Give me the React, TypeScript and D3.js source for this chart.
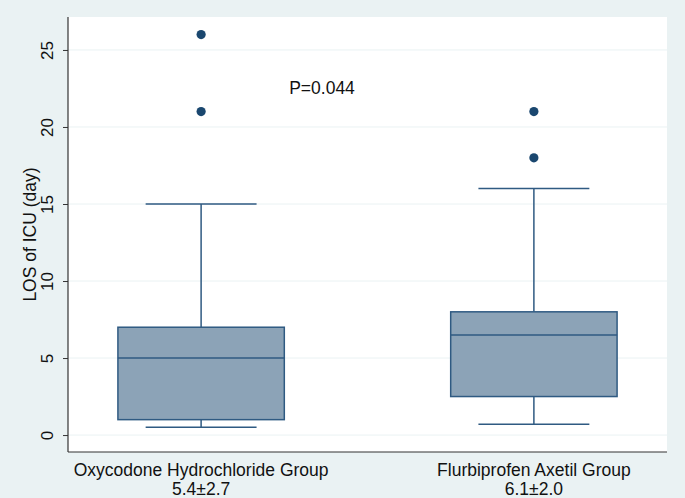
import { useEffect, useRef } from 'react';
import * as d3 from 'd3';

const groups = ['Oxycodone Hydrochloride Group', 'Flurbiprofen Axetil Group'];
const summaries = ['5.4±2.7', '6.1±2.0'];
const lowWhisker = [0.5, 0.7];
const q1 = [1, 2.5];
const median = [5, 6.5];
const q3 = [7, 8];
const highWhisker = [15, 16];
const outliers = [[21, 26], [18, 21]];
const yTicks = [0, 5, 10, 15, 20, 25];

export default function App() {
  const ref = useRef<SVGSVGElement | null>(null);
  useEffect(() => {
    const W = 685, H = 498;
    const svg = d3.select(ref.current!);
    svg.selectAll('*').remove();
    const font = 'Liberation Sans, Arial, sans-serif';
    svg.append('rect').attr('width', W).attr('height', H).attr('fill', '#eaf2f3');
    const left = 68, right = 667, top = 17, bottom = 452;
    svg.append('rect').attr('x', left).attr('y', top).attr('width', right - left).attr('height', bottom - top).attr('fill', '#fff');

    const y = d3.scaleLinear().domain([-1.1, 27.14]).range([bottom, top]);
    const x = d3.scalePoint<string>().domain(groups).range([left, right]).padding(0.4);
    const step = x.step();
    const bw = step * 0.5, cw = step / 3;

    // gridlines
    svg.append('g').selectAll('line').data(yTicks).enter().append('line')
      .attr('x1', left).attr('x2', right).attr('y1', (d) => y(d)).attr('y2', (d) => y(d))
      .attr('stroke', '#eaf2f3').attr('stroke-width', 1);

    // y axis
    const ax = svg.append('g').attr('transform', `translate(${left},0)`)
      .call(d3.axisLeft(y).tickValues(yTicks).tickSize(5).tickPadding(4));
    ax.select('.domain').remove();
    ax.selectAll('line').attr('stroke', '#333');
    ax.selectAll('text').attr('font-size', 17).attr('font-family', font).attr('fill', '#111')
      .attr('text-anchor', 'middle').attr('dy', 0).attr('x', 0)
      .attr('transform', () => `translate(-15,0) rotate(-90)`);
    svg.append('line').attr('x1', left).attr('x2', left).attr('y1', top).attr('y2', bottom).attr('stroke', '#333').attr('stroke-width', 1.2);
    svg.append('line').attr('x1', left).attr('x2', right).attr('y1', bottom).attr('y2', bottom).attr('stroke', '#333').attr('stroke-width', 1.2);

    svg.append('text').attr('transform', `translate(36,${(top + bottom) / 2}) rotate(-90)`)
      .attr('text-anchor', 'middle').attr('font-size', 17.5).attr('font-family', font).attr('fill', '#111')
      .text('LOS of ICU (day)');

    const stroke = '#2f5a82';
    groups.forEach((g, i) => {
      const cx = x(g)!;
      const gg = svg.append('g');
      gg.append('line').attr('x1', cx).attr('x2', cx).attr('y1', y(highWhisker[i])).attr('y2', y(q3[i])).attr('stroke', stroke).attr('stroke-width', 1.5);
      gg.append('line').attr('x1', cx).attr('x2', cx).attr('y1', y(q1[i])).attr('y2', y(lowWhisker[i])).attr('stroke', stroke).attr('stroke-width', 1.5);
      [highWhisker[i], lowWhisker[i]].forEach((v) => {
        gg.append('line').attr('x1', cx - cw / 2).attr('x2', cx + cw / 2).attr('y1', y(v)).attr('y2', y(v)).attr('stroke', stroke).attr('stroke-width', 1.5);
      });
      gg.append('rect').attr('x', cx - bw / 2).attr('width', bw).attr('y', y(q3[i])).attr('height', y(q1[i]) - y(q3[i]))
        .attr('fill', '#8ca3b7').attr('stroke', stroke).attr('stroke-width', 1.5);
      gg.append('line').attr('x1', cx - bw / 2).attr('x2', cx + bw / 2).attr('y1', y(median[i])).attr('y2', y(median[i])).attr('stroke', stroke).attr('stroke-width', 1.5);
      gg.selectAll('circle').data(outliers[i]).enter().append('circle')
        .attr('cx', cx).attr('cy', (d) => y(d)).attr('r', 4.6).attr('fill', '#1a476f');
      const t = svg.append('text').attr('text-anchor', 'middle').attr('font-size', 17.5).attr('font-family', font).attr('fill', '#111');
      t.append('tspan').attr('x', cx).attr('y', 476).text(g);
      t.append('tspan').attr('x', cx).attr('y', 495).text(summaries[i]);
    });

    svg.append('text').attr('x', 322).attr('y', 94).attr('text-anchor', 'middle')
      .attr('font-size', 17.5).attr('font-family', font).attr('fill', '#111').text('P=0.044');
  }, []);
  return <svg ref={ref} width={685} height={498} style={{ display: 'block', position: 'absolute', left: 0, top: 0 }} />;
}
